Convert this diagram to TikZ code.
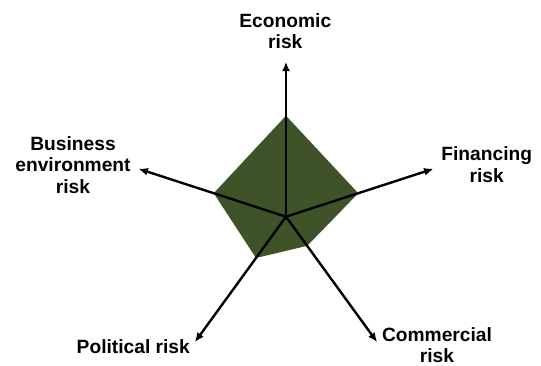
\documentclass[tikz,border=0pt]{standalone}
\usepackage{fontspec}
\setmainfont{Liberation Sans}
\usetikzlibrary{arrows.meta}
\definecolor{riskgreen}{RGB}{63,83,41}

\begin{document}
\begin{tikzpicture}[x=0.75pt,y=0.75pt,
    axis/.style={line width=1.8pt,-{Latex[length=7pt,width=6pt]}},
    area/.style={fill=riskgreen},
    lbl/.style={font=\bfseries\fontsize{14.4}{16.3}\selectfont,
      align=center,inner sep=0pt,anchor=south}]
  \useasboundingbox (-286,-148.3) rectangle (255,216.7);
  % Centre and axis ends
  \coordinate (O) at (0,0);
  \foreach \a/\n in {90/econ,18/fin,-54/com,-126/pol,162/bus}
    \coordinate (\n) at (\a:155);
  % Risk profile
  \fill[area] (90:101) -- (18:76) -- (-54:36) -- (-126:51) -- (162:76) -- cycle;
  % Axes
  \foreach \n in {econ,fin,com,pol,bus}
    \draw[axis] (O) -- (\n);
  % Labels
  \node[lbl] (econlbl) at (-0.7,167.4) {Economic\\risk};
  \node[lbl] (finlbl) at (200.7,34) {Financing\\risk};
  \node[lbl] (comlbl) at (151,-146.5) {Commercial\\risk};
  \node[lbl] (pollbl) at (-152.7,-137.3) {Political risk};
  \node[lbl] (buslbl) at (-213,22.7) {Business\\environment\\risk};
\end{tikzpicture}
\end{document}
